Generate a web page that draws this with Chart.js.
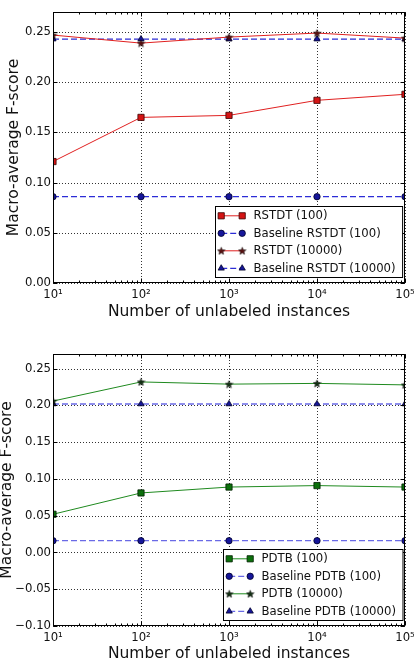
<!DOCTYPE html>
<html>
<head>
<meta charset="utf-8">
<script src="https://cdn.jsdelivr.net/npm/chart.js@4.4.0/dist/chart.umd.min.js"></script>
<style>
  html, body { margin: 0; padding: 0; background: #fff; }
  .painel { width: 414px; height: 332px; }
  canvas { display: block; }
</style>
</head>
<body>
<div class="painel"><canvas id="grafico-rstdt" width="414" height="332"></canvas></div>
<div class="painel"><canvas id="grafico-pdtb" width="414" height="332"></canvas></div>
<script>
// Dados
const instancias = [10, 100, 1000, 10000, 100000];
const rotulosX = ['10¹', '10²', '10³', '10⁴', '10⁵'];

const rstdt100 = [0.121, 0.165, 0.167, 0.182, 0.188];
const baselineRstdt100 = [0.086, 0.086, 0.086, 0.086, 0.086];
const rstdt10000 = [0.247, 0.239, 0.245, 0.249, 0.244];
const baselineRstdt10000 = [0.243, 0.243, 0.243, 0.243, 0.243];

const pdtb100 = [0.052, 0.081, 0.089, 0.091, 0.089];
const baselinePdtb100 = [0.016, 0.016, 0.016, 0.016, 0.016];
const pdtb10000 = [0.206, 0.232, 0.229, 0.230, 0.228];
const baselinePdtb10000 = [0.202, 0.202, 0.202, 0.202, 0.202];

const ticksYTopo = [0, 0.05, 0.10, 0.15, 0.20, 0.25];
const ticksYBase = [-0.10, -0.05, 0, 0.05, 0.10, 0.15, 0.20, 0.25];

const FONTE = "'DejaVu Sans', 'Liberation Sans', sans-serif";

// Estrela (marcador '*')
function criarEstrela(cor) {
    const c = document.createElement('canvas');
    c.width = 9; c.height = 9;
    const g = c.getContext('2d');
    g.beginPath();
    for (let i = 0; i < 10; i++) {
        const r = i % 2 === 0 ? 4 : 1.7;
        const ang = -Math.PI / 2 + i * Math.PI / 5;
        const px = 4.5 + r * Math.cos(ang), py = 4.9 + r * Math.sin(ang);
        if (i === 0) g.moveTo(px, py); else g.lineTo(px, py);
    }
    g.closePath();
    g.fillStyle = cor; g.fill();
    g.strokeStyle = '#000'; g.lineWidth = 0.5; g.stroke();
    return c;
}

function serie(label, valores, estilo) {
    return Object.assign({
        label: label,
        data: valores.map((v, i) => ({ x: instancias[i], y: v })),
        fill: false,
        tension: 0,
        borderWidth: 1,
        pointBorderWidth: 0.8,
        pointHoverRadius: 0,
        clip: 0
    }, estilo);
}

function formatarTick(v) {
    const t = Math.abs(v).toFixed(2);
    return v < -1e-9 ? '\u2212' + t : t;
}

function desenharMarcador(ctx, ds, x, y) {
    ctx.save();
    ctx.setLineDash([]);
    ctx.fillStyle = ds.pointBackgroundColor;
    ctx.strokeStyle = ds.pointBorderColor;
    ctx.lineWidth = ds.pointBorderWidth;
    Chart.helpers.drawPoint(ctx, {
        pointStyle: ds.pointStyle, radius: ds.pointRadius,
        rotation: 0, borderWidth: ds.pointBorderWidth
    }, x, y);
    ctx.restore();
}

// Grade pontilhada, moldura, marcas internas e legenda
const molduraEixos = {
    id: 'molduraEixos',
    beforeDatasetsDraw(chart) {
        const { ctx, chartArea: a, scales: { x, y } } = chart;
        ctx.save();
        ctx.strokeStyle = '#333';
        ctx.lineWidth = 1;
        ctx.setLineDash([1, 2]);
        x.ticks.forEach(t => {
            const px = Math.round(x.getPixelForValue(t.value)) + 0.5;
            ctx.beginPath(); ctx.moveTo(px, a.top); ctx.lineTo(px, a.bottom); ctx.stroke();
        });
        y.ticks.forEach(t => {
            const py = Math.round(y.getPixelForValue(t.value)) + 0.5;
            ctx.beginPath(); ctx.moveTo(a.left, py); ctx.lineTo(a.right, py); ctx.stroke();
        });
        ctx.restore();
    },
    afterDatasetsDraw(chart) {
        const { ctx, chartArea: a, scales: { x, y } } = chart;
        ctx.save();
        ctx.strokeStyle = '#000';
        ctx.lineWidth = 1;
        ctx.setLineDash([]);
        const L = Math.round(a.left) + 0.5, R = Math.round(a.right) - 0.5;
        const T = Math.round(a.top) + 0.5, B = Math.round(a.bottom) - 0.5;
        ctx.strokeRect(L, T, R - L, B - T);

        // marcas maiores e menores no eixo x
        ctx.beginPath();
        for (let e = 1; e <= 5; e++) {
            for (let m = 1; m <= 9; m++) {
                const v = m * Math.pow(10, e);
                if (v < x.min || v > x.max) continue;
                const px = Math.round(x.getPixelForValue(v)) + 0.5;
                const len = m === 1 ? 4 : 2;
                ctx.moveTo(px, B); ctx.lineTo(px, B - len);
                ctx.moveTo(px, T); ctx.lineTo(px, T + len);
            }
        }
        y.ticks.forEach(t => {
            const py = Math.round(y.getPixelForValue(t.value)) + 0.5;
            ctx.moveTo(L, py); ctx.lineTo(L + 4, py);
            ctx.moveTo(R, py); ctx.lineTo(R - 4, py);
        });
        ctx.stroke();

        // legenda
        const datasets = chart.data.datasets;
        ctx.font = '11.7px ' + FONTE;
        const larguraTexto = Math.max(...datasets.map(d => ctx.measureText(d.label).width));
        const w = 38 + larguraTexto + 7, h = 71;
        const bx = Math.round(a.right - 3 - w) + 0.5, by = Math.round(a.bottom - 6 - h) + 0.5;
        ctx.fillStyle = '#fff';
        ctx.fillRect(bx, by, w, h);
        ctx.strokeStyle = '#000';
        ctx.strokeRect(bx, by, w, h);
        datasets.forEach((ds, i) => {
            const ly = by + 9.3 + i * 17.5;
            const x0 = bx + 5.7, x1 = bx + 26.7;
            ctx.save();
            ctx.strokeStyle = ds.borderColor;
            ctx.lineWidth = ds.borderWidth;
            ctx.setLineDash(ds.borderDash || []);
            ctx.beginPath(); ctx.moveTo(x0, ly); ctx.lineTo(x1, ly); ctx.stroke();
            ctx.restore();
            desenharMarcador(ctx, ds, x0, ly);
            desenharMarcador(ctx, ds, x1, ly);
            ctx.fillStyle = '#111';
            ctx.textBaseline = 'middle';
            ctx.textAlign = 'left';
            ctx.fillText(ds.label, bx + 38, ly + 0.5);
        });
        ctx.restore();
    }
};

function criarGrafico(id, datasets, ticksY, minY, opcoes) {
    return new Chart(document.getElementById(id), {
        type: 'line',
        data: { datasets: datasets },
        plugins: [molduraEixos],
        options: {
            responsive: false,
            animation: false,
            events: [],
            layout: { padding: { top: opcoes.topo, left: 0, right: 9, bottom: 0 } },
            plugins: { legend: { display: false }, tooltip: { enabled: false } },
            scales: {
                x: {
                    type: 'logarithmic',
                    min: 10,
                    max: 100000,
                    grid: { display: false, drawTicks: false },
                    border: { display: false },
                    afterBuildTicks: s => { s.ticks = instancias.map(v => ({ value: v })); },
                    afterFit: s => { s.height = opcoes.alturaX; s.paddingLeft = 0; s.paddingRight = 0; },
                    ticks: {
                        autoSkip: false, maxRotation: 0, padding: 5,
                        color: '#111', font: { family: FONTE, size: 11.7 },
                        callback: (v, i) => rotulosX[i]
                    },
                    title: {
                        display: true, text: 'Number of unlabeled instances', color: '#111',
                        font: { family: FONTE, size: 15.5 },
                        padding: { top: 0, bottom: opcoes.padTituloX }
                    }
                },
                y: {
                    min: minY,
                    max: 0.27,
                    grid: { display: false, drawTicks: false },
                    border: { display: false },
                    afterBuildTicks: s => { s.ticks = ticksY.map(v => ({ value: v })); },
                    afterFit: s => { s.width = 53; s.paddingTop = 0; s.paddingBottom = 0; },
                    ticks: {
                        padding: 2, color: '#111', font: { family: FONTE, size: 11.7 },
                        callback: v => formatarTick(v)
                    },
                    title: {
                        display: true, text: 'Macro-average F-score', color: '#111',
                        font: { family: FONTE, size: 15.5 },
                        padding: { top: opcoes.padTituloY, bottom: 0 }
                    }
                }
            }
        }
    });
}

const vermelho = '#e02020', verde = '#1f8a1f';
const azulTopo = '#2c2cd6', azulBase = '#6a6ae6';

criarGrafico('grafico-rstdt', [
    serie('RSTDT (100)', rstdt100, {
        borderColor: vermelho, pointStyle: 'rect', pointRadius: 4.4,
        pointBackgroundColor: '#d41414', pointBorderColor: '#3a0000'
    }),
    serie('Baseline RSTDT (100)', baselineRstdt100, {
        borderColor: azulTopo, borderDash: [6, 3], borderWidth: 1.3, pointStyle: 'circle', pointRadius: 3.2,
        pointBackgroundColor: '#16169a', pointBorderColor: '#000028'
    }),
    serie('RSTDT (10000)', rstdt10000, {
        borderColor: vermelho, pointStyle: criarEstrela('#5a1010'), pointRadius: 4,
        pointBackgroundColor: '#5a1010', pointBorderColor: '#000'
    }),
    serie('Baseline RSTDT (10000)', baselineRstdt10000, {
        borderColor: azulTopo, borderDash: [6, 3], borderWidth: 1.3, pointStyle: 'triangle', pointRadius: 3.6,
        pointBackgroundColor: '#16169a', pointBorderColor: '#000028'
    })
], ticksYTopo, 0, { topo: 12, alturaX: 49, padTituloX: 10.7, padTituloY: 4.4 });

criarGrafico('grafico-pdtb', [
    serie('PDTB (100)', pdtb100, {
        borderColor: verde, pointStyle: 'rect', pointRadius: 4.4,
        pointBackgroundColor: '#0c700c', pointBorderColor: '#002000'
    }),
    serie('Baseline PDTB (100)', baselinePdtb100, {
        borderColor: azulBase, borderDash: [6, 3], borderWidth: 1.3, pointStyle: 'circle', pointRadius: 3.2,
        pointBackgroundColor: '#16169a', pointBorderColor: '#000028'
    }),
    serie('PDTB (10000)', pdtb10000, {
        borderColor: verde, pointStyle: criarEstrela('#123012'), pointRadius: 4,
        pointBackgroundColor: '#123012', pointBorderColor: '#000'
    }),
    serie('Baseline PDTB (10000)', baselinePdtb10000, {
        borderColor: azulBase, borderDash: [6, 3], borderWidth: 1.3, pointStyle: 'triangle', pointRadius: 3.6,
        pointBackgroundColor: '#16169a', pointBorderColor: '#000028'
    })
], ticksYBase, -0.10, { topo: 22, alturaX: 38, padTituloX: 0.7, padTituloY: -2.3 });
</script>
</body>
</html>
